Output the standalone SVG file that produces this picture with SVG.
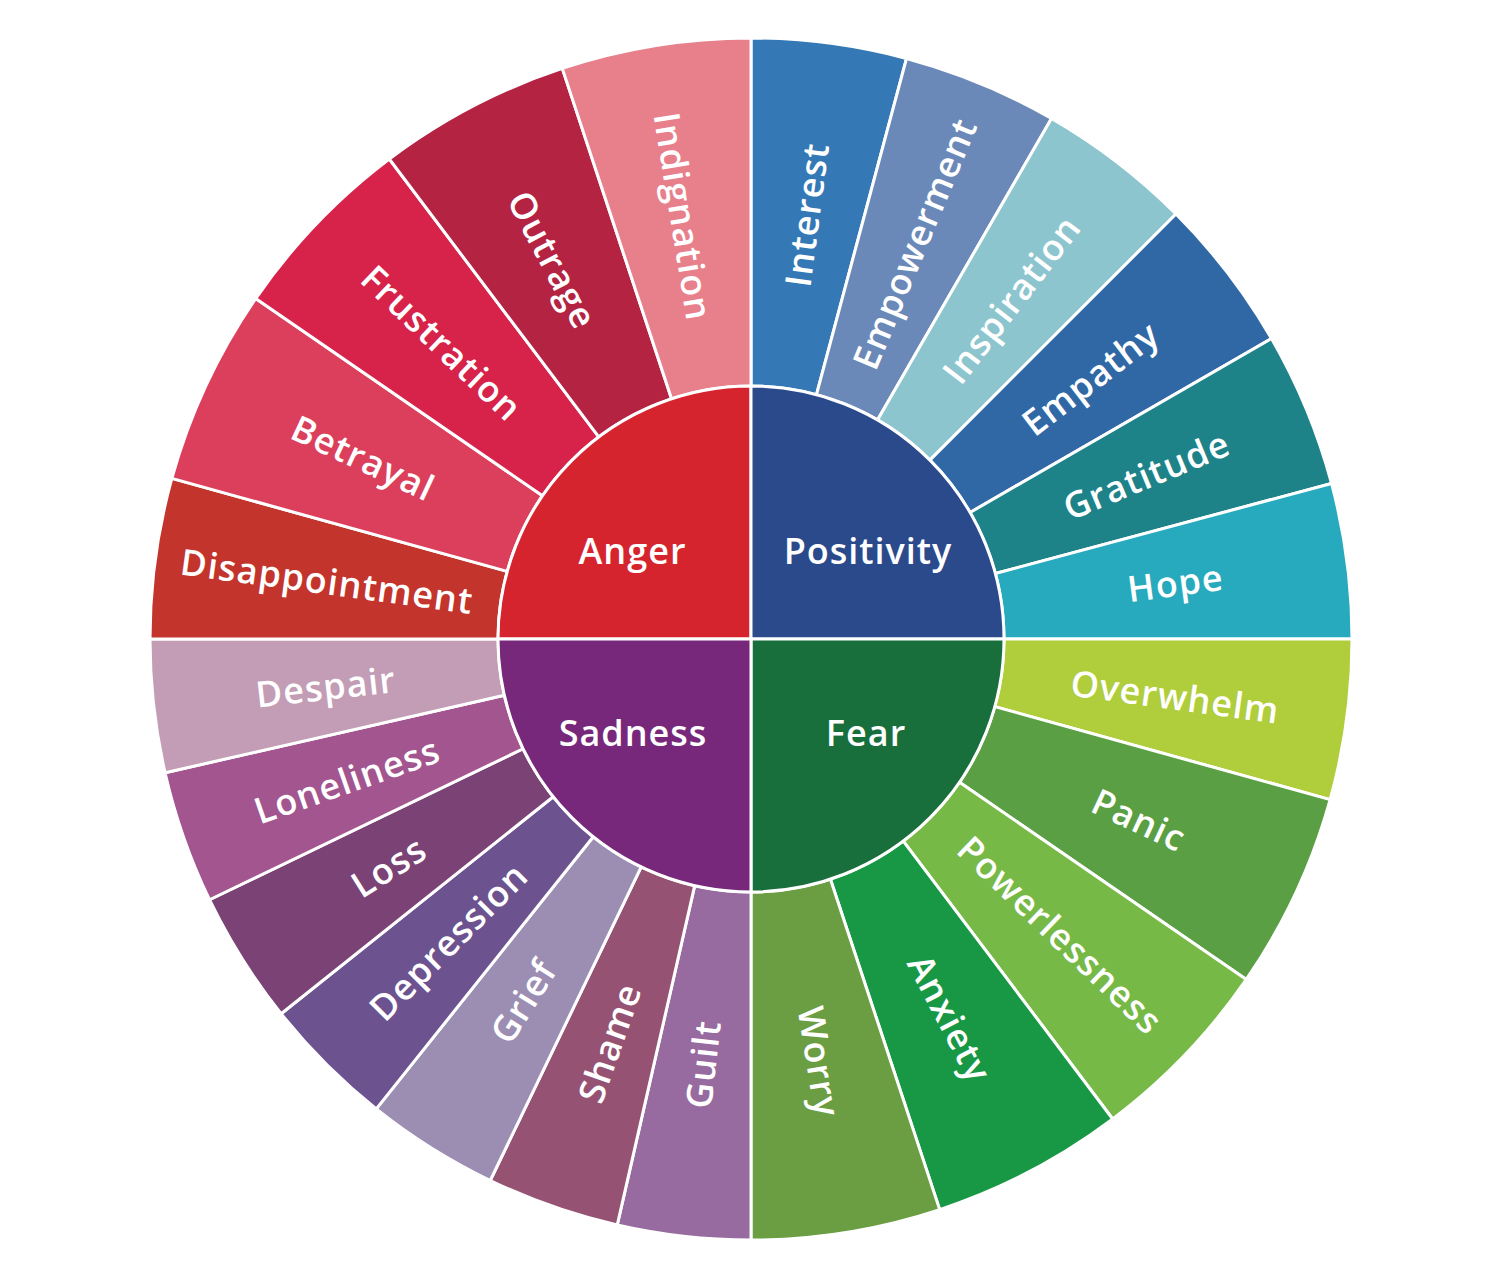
<svg xmlns="http://www.w3.org/2000/svg" width="1500" height="1277" viewBox="0 0 1500 1277">
<style>
.seg{stroke:#ffffff;stroke-width:3;stroke-linejoin:round}
.core{stroke:#ffffff;stroke-width:3;stroke-linejoin:round}
text{font-family:"Open Sans","Liberation Sans",sans-serif;font-weight:600;font-size:36px;letter-spacing:1px;fill:#ffffff}
.lbl{text-anchor:middle}
</style>
<rect width="1500" height="1277" fill="#ffffff"/>
<g id="outer-ring">
<g id="interest"><path class="seg" fill="#3479B5" d="M751,386 L751,38 A601,601 0 0 1 906.55,58.48 L816.48,394.62 A253,253 0 0 0 751,386 Z"/><text class="lbl" transform="translate(806.87,214.66) rotate(-82.5)" dy=".36em">Interest</text></g>
<g id="empowerment"><path class="seg" fill="#6B89B8" d="M816.48,394.62 L906.55,58.48 A601,601 0 0 1 1051.5,118.52 L877.5,419.9 A253,253 0 0 0 816.48,394.62 Z"/><text class="lbl" transform="translate(914.79,243.58) rotate(-67.5)" dy=".36em">Empowerment</text></g>
<g id="inspiration"><path class="seg" fill="#8DC5CF" d="M877.5,419.9 L1051.5,118.52 A601,601 0 0 1 1175.97,214.03 L929.9,460.1 A253,253 0 0 0 877.5,419.9 Z"/><text class="lbl" transform="translate(1011.55,299.44) rotate(-52.5)" dy=".36em">Inspiration</text></g>
<g id="empathy"><path class="seg" fill="#3068A5" d="M929.9,460.1 L1175.97,214.03 A601,601 0 0 1 1271.48,338.5 L970.1,512.5 A253,253 0 0 0 929.9,460.1 Z"/><text class="lbl" transform="translate(1090.56,378.45) rotate(-37.5)" dy=".36em">Empathy</text></g>
<g id="gratitude"><path class="seg" fill="#1E8289" d="M970.1,512.5 L1271.48,338.5 A601,601 0 0 1 1331.52,483.45 L995.38,573.52 A253,253 0 0 0 970.1,512.5 Z"/><text class="lbl" transform="translate(1146.42,475.21) rotate(-22.5)" dy=".36em">Gratitude</text></g>
<g id="hope"><path class="seg" fill="#27A9BE" d="M995.38,573.52 L1331.52,483.45 A601,601 0 0 1 1352,639 L1004,639 A253,253 0 0 0 995.38,573.52 Z"/><text class="lbl" transform="translate(1175.34,583.13) rotate(-7.5)" dy=".36em">Hope</text></g>
<g id="overwhelm"><path class="seg" fill="#B0CD3B" d="M1004,639 L1352,639 A601,601 0 0 1 1330.14,799.61 L994.8,706.61 A253,253 0 0 0 1004,639 Z"/><text class="lbl" transform="translate(1175.09,696.72) rotate(7.75)" dy=".36em">Overwhelm</text></g>
<g id="panic"><path class="seg" fill="#5A9F43" d="M994.8,706.61 L1330.14,799.61 A601,601 0 0 1 1246.3,979.41 L959.5,782.3 A253,253 0 0 0 994.8,706.61 Z"/><text class="lbl" transform="translate(1138.9,819.88) rotate(25)" dy=".36em">Panic</text></g>
<g id="powerlessness"><path class="seg" fill="#77B947" d="M959.5,782.3 L1246.3,979.41 A601,601 0 0 1 1112.69,1118.98 L903.26,841.05 A253,253 0 0 0 959.5,782.3 Z"/><text class="lbl" transform="translate(1060.17,934.97) rotate(43.75)" dy=".36em">Powerlessness</text></g>
<g id="anxiety"><path class="seg" fill="#189845" d="M903.26,841.05 L1112.69,1118.98 A601,601 0 0 1 939.71,1209.6 L830.44,879.2 A253,253 0 0 0 903.26,841.05 Z"/><text class="lbl" transform="translate(949.61,1018.13) rotate(62.35)" dy=".36em">Anxiety</text></g>
<g id="worry"><path class="seg" fill="#6B9E42" d="M830.44,879.2 L939.71,1209.6 A601,601 0 0 1 751,1240 L751,892 A253,253 0 0 0 830.44,879.2 Z"/><text class="lbl" transform="translate(819.06,1061.55) rotate(80.85)" dy=".36em">Worry</text></g>
<g id="guilt"><path class="seg" fill="#986BA0" d="M751,892 L751,1240 A601,601 0 0 1 617.26,1224.93 L694.7,885.66 A253,253 0 0 0 751,892 Z"/><text class="lbl" transform="translate(703.08,1064.31) rotate(-83.57)" dy=".36em">Guilt</text></g>
<g id="shame"><path class="seg" fill="#955273" d="M694.7,885.66 L617.26,1224.93 A601,601 0 0 1 490.24,1180.48 L641.23,866.95 A253,253 0 0 0 694.7,885.66 Z"/><text class="lbl" transform="translate(609.64,1042.98) rotate(-70.71)" dy=".36em">Shame</text></g>
<g id="grief"><path class="seg" fill="#9C8EB3" d="M641.23,866.95 L490.24,1180.48 A601,601 0 0 1 376.28,1108.88 L593.26,836.8 A253,253 0 0 0 641.23,866.95 Z"/><text class="lbl" transform="translate(523.29,1001.4) rotate(-57.86)" dy=".36em">Grief</text></g>
<g id="depression"><path class="seg" fill="#6D5290" d="M593.26,836.8 L376.28,1108.88 A601,601 0 0 1 281.12,1013.72 L553.2,796.74 A253,253 0 0 0 593.26,836.8 Z"/><text class="lbl" transform="translate(448.36,941.64) rotate(-45)" dy=".36em">Depression</text></g>
<g id="loss"><path class="seg" fill="#7A4275" d="M553.2,796.74 L281.12,1013.72 A601,601 0 0 1 209.52,899.76 L523.05,748.77 A253,253 0 0 0 553.2,796.74 Z"/><text class="lbl" transform="translate(388.6,866.71) rotate(-32.14)" dy=".36em">Loss</text></g>
<g id="loneliness"><path class="seg" fill="#A3558F" d="M523.05,748.77 L209.52,899.76 A601,601 0 0 1 165.07,772.74 L504.34,695.3 A253,253 0 0 0 523.05,748.77 Z"/><text class="lbl" transform="translate(347.02,780.36) rotate(-19.29)" dy=".36em">Loneliness</text></g>
<g id="despair"><path class="seg" fill="#C29DB5" d="M504.34,695.3 L165.07,772.74 A601,601 0 0 1 150,639 L498,639 A253,253 0 0 0 504.34,695.3 Z"/><text class="lbl" transform="translate(325.69,686.92) rotate(-6.43)" dy=".36em">Despair</text></g>
<g id="disappointment"><path class="seg" fill="#C3342C" d="M498,639 L150,639 A601,601 0 0 1 171.86,478.39 L507.2,571.39 A253,253 0 0 0 498,639 Z"/><text class="lbl" transform="translate(326.91,581.28) rotate(7.75)" dy=".36em">Disappointment</text></g>
<g id="betrayal"><path class="seg" fill="#DC3F5C" d="M507.2,571.39 L171.86,478.39 A601,601 0 0 1 255.7,298.59 L542.5,495.7 A253,253 0 0 0 507.2,571.39 Z"/><text class="lbl" transform="translate(363.1,458.12) rotate(25)" dy=".36em">Betrayal</text></g>
<g id="frustration"><path class="seg" fill="#D7224A" d="M542.5,495.7 L255.7,298.59 A601,601 0 0 1 389.31,159.02 L598.74,436.95 A253,253 0 0 0 542.5,495.7 Z"/><text class="lbl" transform="translate(441.83,343.03) rotate(43.75)" dy=".36em">Frustration</text></g>
<g id="outrage"><path class="seg" fill="#B42342" d="M598.74,436.95 L389.31,159.02 A601,601 0 0 1 562.29,68.4 L671.56,398.8 A253,253 0 0 0 598.74,436.95 Z"/><text class="lbl" transform="translate(552.39,259.87) rotate(62.35)" dy=".36em">Outrage</text></g>
<g id="indignation"><path class="seg" fill="#E8808B" d="M671.56,398.8 L562.29,68.4 A601,601 0 0 1 751,38 L751,386 A253,253 0 0 0 671.56,398.8 Z"/><text class="lbl" transform="translate(682.94,216.45) rotate(80.85)" dy=".36em">Indignation</text></g>
</g>
<g id="core">
<g id="anger"><path class="core" fill="#D6242E" d="M751,639 L498,639 A253,253 0 0 1 751,386 Z"/><text class="lbl" x="632.5" y="564">Anger</text></g>
<g id="positivity"><path class="core" fill="#2B4A8C" d="M751,639 L751,386 A253,253 0 0 1 1004,639 Z"/><text class="lbl" x="868" y="564">Positivity</text></g>
<g id="fear"><path class="core" fill="#186F3C" d="M751,639 L1004,639 A253,253 0 0 1 751,892 Z"/><text class="lbl" x="866" y="746">Fear</text></g>
<g id="sadness"><path class="core" fill="#78287A" d="M751,639 L751,892 A253,253 0 0 1 498,639 Z"/><text class="lbl" x="633" y="746">Sadness</text></g>
</g>
<g id="connectors"/>
</svg>
